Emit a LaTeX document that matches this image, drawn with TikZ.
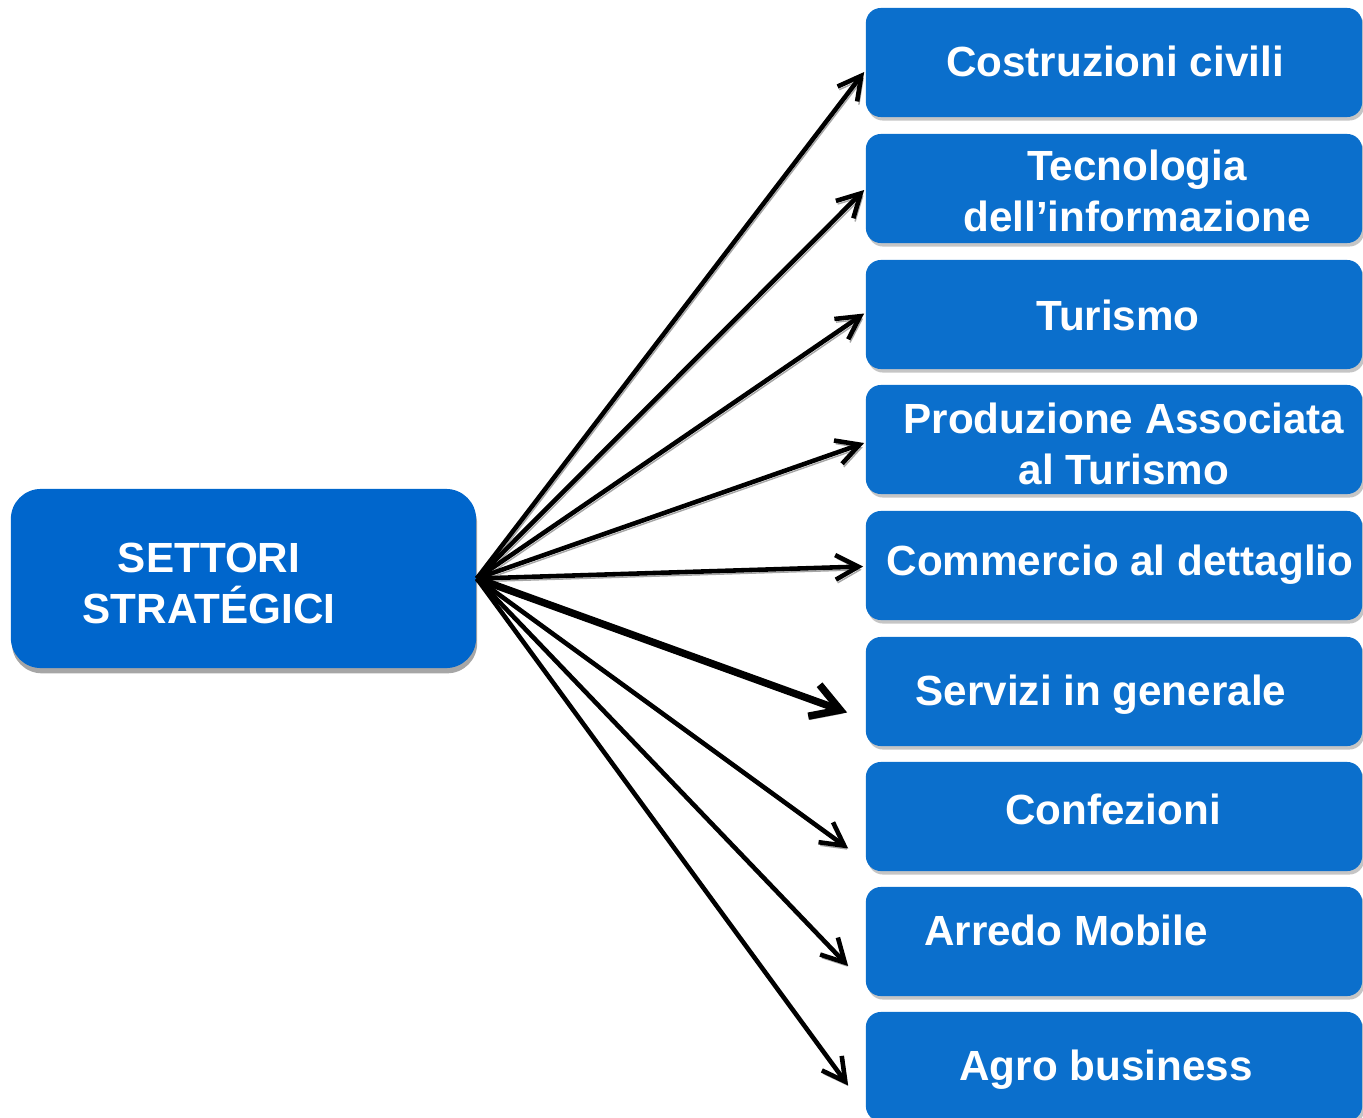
\documentclass[tikz,border=0pt]{standalone}
\usepackage{fontspec}
\setmainfont{Liberation Sans}
\usetikzlibrary{arrows.meta,shadows,calc}
\definecolor{mainblue}{HTML}{0066CC}
\definecolor{boxblue}{HTML}{0B6FCC}
\begin{document}
\begin{tikzpicture}[x=0.01cm,y=-0.01cm,
  sector/.style={fill=boxblue, rounded corners=0.15cm, minimum width=4.96cm, minimum height=1.09cm, inner sep=0pt,
    drop shadow={shadow xshift=0.6pt, shadow yshift=-1pt, fill=black!45, opacity=0.5}},
  mainbox/.style={fill=mainblue, rounded corners=0.3cm, minimum width=4.65cm, minimum height=1.79cm, inner sep=0pt,
    drop shadow={shadow xshift=0.3pt, shadow yshift=-1.5pt, fill=black!35, opacity=1}},
  txt/.style={text=white, font=\fontsize{12}{14.3}\selectfont\bfseries, align=center, anchor=base, inner sep=0pt},
  conn/.style={draw=black, line width=1.3pt, -{Straight Barb[length=6.5pt,width=7pt]},
    preaction={draw=black!35, transform canvas={shift={(0.5pt,-0.9pt)}}}},
  connthick/.style={conn, line width=2.1pt, -{Straight Barb[length=8pt,width=9.5pt]}}
]
\useasboundingbox (0,0) rectangle (1363,1118);
% main box
\node[mainbox] (m) at (243.5,578.5) {};
\node[txt] (tm) at (209,623) {SETTORI\\STRATÉGICI};
% sector boxes
\node[sector] (b1) at (1114,62.5) {};
\node[sector] (b2) at (1114,188.5) {};
\node[sector] (b3) at (1114,314.5) {};
\node[sector] (b4) at (1114,439.5) {};
\node[sector] (b5) at (1114,565.5) {};
\node[sector] (b6) at (1114,691.5) {};
\node[sector] (b7) at (1114,816.5) {};
\node[sector] (b8) at (1114,941.5) {};
\node[sector] (b9) at (1114,1066.5) {};
% texts
\node[txt] (t1) at (1115,76) {Costruzioni civili};
\node[txt] (t2) at (1137,231) {Tecnologia\\dell’informazione};
\node[txt] (t3) at (1118,330) {Turismo};
\node[txt] (t4) at (1124,484) {Produzione Associata\\al Turismo};
\node[txt] (t5) at (1120,575) {Commercio al dettaglio};
\node[txt] (t6) at (1101,705) {Servizi in generale};
\node[txt] (t7) at (1113,824) {Confezioni};
\node[txt] (t8) at (1066,945) {Arredo Mobile};
\node[txt] (t9) at (1106,1080) {Agro business};
% connectors
\draw[conn] (m.east) -- ($(b1.west)+(-1,9.5)$);
\draw[conn] (m.east) -- ($(b2.west)+(-1,1.5)$);
\draw[conn] (m.east) -- ($(b3.west)+(-1,-1)$);
\draw[conn] (m.east) -- ($(b4.west)+(-1,3.5)$);
\draw[conn] (m.east) -- ($(b5.west)+(-2,1)$);
\draw[connthick] (m.east) -- ($(b6.west)+(-18,21)$);
\draw[conn] (m.east) -- ($(b7.west)+(-17,32)$);
\draw[conn] (m.east) -- ($(b8.west)+(-17,24.5)$);
\draw[conn] (m.east) -- ($(b9.west)+(-17,19)$);
\end{tikzpicture}
\end{document}
